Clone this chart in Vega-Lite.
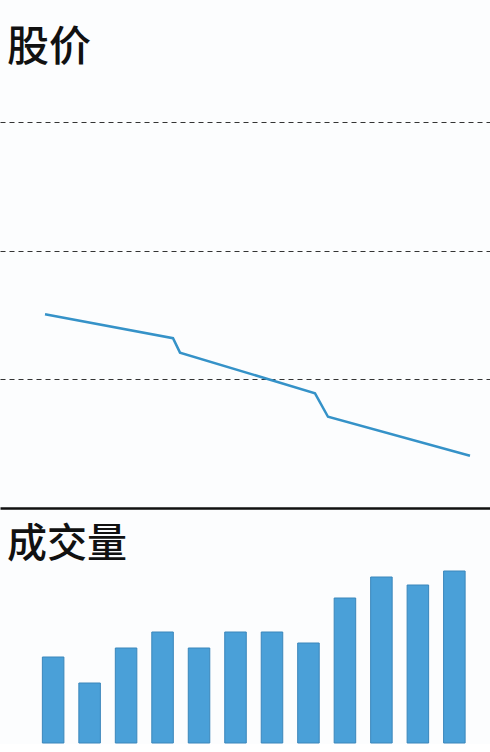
{
  "$schema": "https://vega.github.io/schema/vega-lite/v6.json",
  "background": "#fcfdfe",
  "padding": {"top": 27, "left": 0, "right": 0, "bottom": 0},
  "spacing": 17,
  "config": {
    "view": {"stroke": null},
    "font": "Noto Sans CJK SC",
    "title": {"font": "Noto Sans CJK SC", "fontWeight": 500, "color": "#111111", "anchor": "start", "dx": 7}
  },
  "vconcat": [
    {
      "title": {"text": "股价", "fontSize": 42, "offset": 10},
      "width": 490,
      "height": 428,
      "data": {
        "values": [
          {"t": 45, "price": 15.05},
          {"t": 173, "price": 13.19},
          {"t": 180, "price": 12.07},
          {"t": 315, "price": 8.91},
          {"t": 328, "price": 7.09},
          {"t": 470, "price": 4.06}
        ]
      },
      "mark": {"type": "line", "color": "#3592c8", "strokeWidth": 2.5},
      "encoding": {
        "x": {
          "field": "t",
          "type": "quantitative",
          "scale": {"domain": [0, 490], "nice": false},
          "axis": {"title": null, "labels": false, "ticks": false, "grid": false, "domain": true, "domainColor": "#111111", "domainWidth": 2.5}
        },
        "y": {
          "field": "price",
          "type": "quantitative",
          "scale": {"domain": [0, 33.25], "nice": false},
          "axis": {"title": null, "labels": false, "ticks": false, "domain": false, "values": [10, 20, 30], "grid": true, "gridColor": "#333333", "gridDash": [5, 4], "gridWidth": 1.2}
        }
      }
    },
    {
      "title": {"text": "成交量", "fontSize": 40, "offset": 3},
      "width": 490,
      "height": 175,
      "data": {
        "values": [
          {"day": 1, "volume": 86},
          {"day": 2, "volume": 60},
          {"day": 3, "volume": 95},
          {"day": 4, "volume": 111},
          {"day": 5, "volume": 95},
          {"day": 6, "volume": 111},
          {"day": 7, "volume": 111},
          {"day": 8, "volume": 100},
          {"day": 9, "volume": 145},
          {"day": 10, "volume": 166},
          {"day": 11, "volume": 158},
          {"day": 12, "volume": 172}
        ]
      },
      "mark": {"type": "bar", "color": "#4aa0d8", "stroke": "#3a86bb", "strokeWidth": 1},
      "encoding": {
        "x": {
          "field": "day",
          "type": "ordinal",
          "scale": {"paddingInner": 0.41, "paddingOuter": 0.922, "align": 0.63},
          "axis": null
        },
        "y": {
          "field": "volume",
          "type": "quantitative",
          "scale": {"domain": [0, 175], "nice": false},
          "axis": null
        }
      }
    }
  ]
}
